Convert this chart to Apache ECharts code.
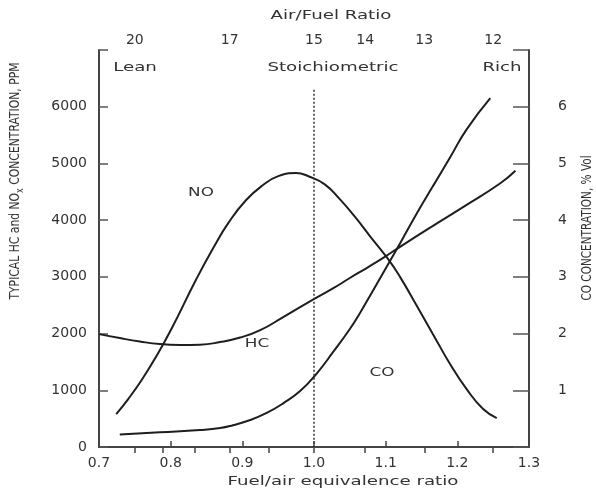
<!DOCTYPE html>
<html>
<head>
<meta charset="utf-8">
<title>HC, NO and CO vs fuel/air equivalence ratio</title>
<script src="https://cdn.jsdelivr.net/npm/echarts@6/dist/echarts.min.js"></script>
<style>
  html, body { margin: 0; padding: 0; background: #fff; }
  #chart { width: 596px; height: 493px; }
</style>
</head>
<body>
<div id="chart"></div>
<script>
// NO, ppm (left axis)
var noPhi = [0.724, 0.741, 0.760, 0.780, 0.801, 0.835, 0.859, 0.881, 0.905, 0.928, 0.951, 0.975, 0.993, 1.015, 1.036, 1.057, 1.078, 1.103, 1.120, 1.143, 1.166, 1.190, 1.213, 1.236, 1.255];
var noPpm = [580, 850, 1190, 1600, 2080, 2940, 3500, 3960, 4350, 4610, 4780, 4830, 4770, 4630, 4370, 4060, 3720, 3320, 3000, 2500, 1990, 1460, 1020, 670, 510];

// HC, ppm (left axis)
var hcPhi = [0.700, 0.729, 0.757, 0.785, 0.813, 0.841, 0.869, 0.897, 0.925, 0.957, 0.992, 1.027, 1.050, 1.074, 1.096, 1.120, 1.166, 1.213, 1.260, 1.281];
var hcPpm = [1990, 1920, 1860, 1815, 1800, 1805, 1850, 1930, 2060, 2290, 2550, 2800, 2980, 3160, 3330, 3530, 3900, 4270, 4650, 4870];

// CO, % vol (right axis)
var coPhi = [0.729, 0.785, 0.841, 0.869, 0.887, 0.911, 0.934, 0.957, 0.981, 1.004, 1.027, 1.050, 1.064, 1.082, 1.106, 1.120, 1.143, 1.166, 1.190, 1.213, 1.246];
var coPct = [0.22, 0.26, 0.30, 0.335, 0.385, 0.475, 0.60, 0.77, 0.99, 1.30, 1.68, 2.08, 2.36, 2.75, 3.28, 3.59, 4.11, 4.60, 5.11, 5.60, 6.15];

// top axis: air/fuel ratio, drawn at phi = 15 / AFR
var afrTicks = [20, 19, 18, 17, 16, 15, 14, 13, 12];
var afrLabels = [20, 17, 15, 14, 13, 12];
var stoichPhi = 1.0;

var FONT = "DejaVu Sans";
var INK = "#333";
var LINE = "#1e1e1e";

function pairs(xs, ys) {
  return xs.map(function (x, i) { return [x, ys[i]]; });
}

// text in the figure is stretched sideways, so scale it
function txt(text, x, y, size, extra) {
  return Object.assign({
    type: "text",
    x: x,
    y: y,
    scaleX: 1.4,
    silent: true,
    style: {
      text: text,
      fontSize: size,
      fontFamily: FONT,
      fill: INK,
      textAlign: "center",
      textVerticalAlign: "middle"
    }
  }, extra || {});
}

var myChart = echarts.init(document.getElementById("chart"));

var lineStyle = { color: LINE, width: 2 };

var option = {
  animation: false,
  backgroundColor: "#fff",
  grid: { left: 99, right: 67, top: 50, bottom: 46, containLabel: false },
  xAxis: [
    {
      type: "value",
      position: "bottom",
      min: 0.7,
      max: 1.3,
      interval: 0.1,
      axisLine: { show: true, lineStyle: { color: "#444", width: 2 } },
      axisTick: { show: true, inside: true, length: 6, lineStyle: { color: "#444", width: 1.5 } },
      axisLabel: {
        margin: 9,
        color: INK,
        fontFamily: FONT,
        fontSize: 14,
        formatter: function (v) { return v.toFixed(1); }
      },
      splitLine: { show: false }
    },
    {
      type: "value",
      position: "top",
      min: 0.7,
      max: 1.3,
      axisLine: { show: true, lineStyle: { color: "#444", width: 2 } },
      axisTick: {
        show: true,
        inside: true,
        length: 6,
        lineStyle: { color: "#444", width: 1.5 },
        customValues: afrTicks.map(function (a) { return 15 / a; })
      },
      axisLabel: {
        margin: 3,
        color: INK,
        fontFamily: FONT,
        fontSize: 14,
        customValues: afrLabels.map(function (a) { return 15 / a; }),
        formatter: function (v) { return String(Math.round(15 / v)); }
      },
      splitLine: { show: false }
    }
  ],
  yAxis: [
    {
      type: "value",
      min: 0,
      max: 7000,
      interval: 1000,
      axisLine: { show: true, lineStyle: { color: "#444", width: 2 } },
      axisTick: { show: true, inside: true, length: 9, lineStyle: { color: "#555", width: 1.5 } },
      axisLabel: {
        margin: 12,
        color: INK,
        fontFamily: FONT,
        fontSize: 14,
        formatter: function (v) { return v >= 7000 ? "" : String(v); }
      },
      splitLine: { show: false }
    },
    {
      type: "value",
      position: "right",
      min: 0,
      max: 7,
      interval: 1,
      axisLine: { show: true, lineStyle: { color: "#444", width: 2 } },
      axisTick: { show: true, inside: true, length: 16, lineStyle: { color: "#555", width: 1.5 } },
      axisLabel: {
        margin: 29,
        color: INK,
        fontFamily: FONT,
        fontSize: 14,
        formatter: function (v) { return (v <= 0 || v >= 7) ? "" : String(v); }
      },
      splitLine: { show: false }
    }
  ],
  series: [
    {
      name: "NO",
      type: "line",
      xAxisIndex: 0,
      yAxisIndex: 0,
      smooth: 0.5,
      showSymbol: false,
      lineStyle: lineStyle,
      data: pairs(noPhi, noPpm),
      markLine: {
        silent: true,
        symbol: ["none", "none"],
        label: { show: false },
        lineStyle: { color: "#333", width: 1.5, type: [2, 2] },
        data: [[{ coord: [stoichPhi, 6300] }, { coord: [stoichPhi, 0] }]]
      }
    },
    {
      name: "HC",
      type: "line",
      xAxisIndex: 0,
      yAxisIndex: 0,
      smooth: 0.5,
      showSymbol: false,
      lineStyle: lineStyle,
      data: pairs(hcPhi, hcPpm)
    },
    {
      name: "CO",
      type: "line",
      xAxisIndex: 0,
      yAxisIndex: 1,
      smooth: 0.5,
      showSymbol: false,
      lineStyle: lineStyle,
      data: pairs(coPhi, coPct)
    }
  ],
  graphic: [
    txt("Air/Fuel Ratio", 331, 16, 13),
    txt("Fuel/air equivalence ratio", 343, 482, 13),
    txt("Lean", 135, 68, 13),
    txt("Stoichiometric", 333, 68, 13),
    txt("Rich", 502, 68, 13),
    txt("NO", 201, 193, 12),
    txt("HC", 257, 344, 12),
    txt("CO", 382, 373, 12),
    {
      type: "text",
      x: 15,
      y: 181,
      rotation: Math.PI / 2,
      scaleY: 1.35,
      silent: true,
      style: {
        text: "TYPICAL HC and NO{s|x} CONCENTRATION, PPM",
        fontSize: 10.8,
        fontFamily: FONT,
        fill: INK,
        textAlign: "center",
        textVerticalAlign: "middle",
        rich: {
          s: { fontSize: 8, fontFamily: FONT, fill: INK, padding: [8, 0, 0, 0] }
        }
      }
    },
    {
      type: "text",
      x: 587,
      y: 228,
      rotation: Math.PI / 2,
      scaleY: 1.35,
      silent: true,
      style: {
        text: "CO CONCENTRATION, % Vol",
        fontSize: 10.5,
        fontFamily: FONT,
        fill: INK,
        textAlign: "center",
        textVerticalAlign: "middle"
      }
    }
  ]
};

myChart.setOption(option);
</script>
</body>
</html>
